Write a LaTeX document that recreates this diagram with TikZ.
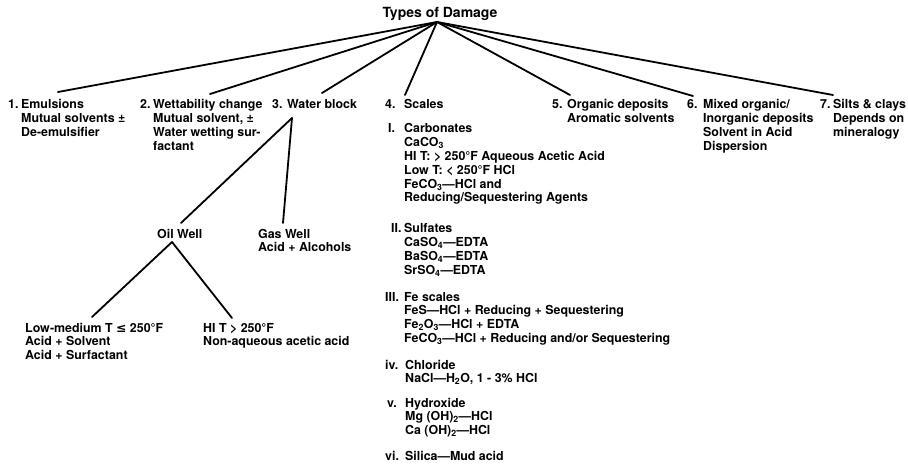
\documentclass[tikz,border=0pt]{standalone}
\usepackage{fontspec}
\setmainfont{TeX Gyre Heros}
\newfontfamily\symfnt{DejaVu Sans}
\newcommand\mlines[1]{\begin{tabular}[t]{@{}l@{}}#1\end{tabular}}
\begin{document}
\begin{tikzpicture}[x=1pt,y=-1pt,
  txt/.style={anchor=base west,inner sep=0pt,font=\bfseries\fontsize{12.4}{13.8}\selectfont},
  ttl/.style={anchor=base,inner sep=0pt,font=\bfseries\fontsize{14}{16}\selectfont},
  link/.style={line width=1.8pt,line cap=round}]
\useasboundingbox (0,0) rectangle (908,468);
% title
\node[ttl] (title) at (440,18) {Types of Damage};
\coordinate (fan) at (437,22);
% 1
\node[txt] (n1) at (8,109) {1.};
\node[txt] (t1) at (21,109) {\mlines{Emulsions\\Mutual solvents ±\\De-emulsifier}};
% 2
\node[txt] (n2) at (140,109) {2.};
\node[txt] (t2) at (153,109) {\mlines{Wettability change\\Mutual solvent, ±\\Water wetting sur-\\factant}};
% 3
\node[txt] (t3) at (272,109) {3. Water block};
% 4
\node[txt] (n4) at (385,109) {4.};
\node[txt] (t4) at (404,109) {Scales};
\node[txt] (r1) at (388,133) {I.};
\node[txt] (s1) at (404,133) {\mlines{Carbonates\\CaCO\textsubscript{3}\\HI T: > 250°F Aqueous Acetic Acid\\Low T: < 250°F HCl\\FeCO\textsubscript{3}—HCl and\\Reducing/Sequestering Agents}};
\node[txt] (r2) at (391,233) {II.};
\node[txt] (s2) at (404,233) {\mlines{Sulfates\\CaSO\textsubscript{4}—EDTA\\BaSO\textsubscript{4}—EDTA\\SrSO\textsubscript{4}—EDTA}};
\node[txt] (r3) at (385,301) {III.};
\node[txt] (s3) at (404,301) {\mlines{Fe scales\\FeS—HCl + Reducing + Sequestering\\Fe\textsubscript{2}O\textsubscript{3}—HCl + EDTA\\FeCO\textsubscript{3}—HCl + Reducing and/or Sequestering}};
\node[txt] (r4) at (385,369) {iv.};
\node[txt] (s4) at (405,369) {\mlines{Chloride\\NaCl—H\textsubscript{2}O, 1 - 3\% HCl}};
\node[txt] (r5) at (387,407) {v.};
\node[txt] (s5) at (405,407) {\mlines{Hydroxide\\Mg (OH)\textsubscript{2}—HCl\\Ca (OH)\textsubscript{2}—HCl}};
\node[txt] (r6) at (385,460) {vi.};
\node[txt] (s6) at (405,460) {Silica—Mud acid};
% 5
\node[txt] (n5) at (552,109) {5.};
\node[txt] (t5) at (567,109) {\mlines{Organic deposits\\Aromatic solvents}};
% 6
\node[txt] (n6) at (687,109) {6.};
\node[txt] (t6) at (703,109) {\mlines{Mixed organic/\\Inorganic deposits\\Solvent in Acid\\Dispersion}};
% 7
\node[txt] (n7) at (820,109) {7.};
\node[txt] (t7) at (833,109) {\mlines{Silts \& clays\\Depends on\\mineralogy}};
% water block subtree
\node[txt] (ow) at (157,238) {Oil Well};
\node[txt] (gw) at (258,238) {\mlines{Gas Well\\Acid + Alcohols}};
\node[txt] (lm) at (25,332) {\mlines{Low-medium T {\symfnt ≤} 250°F\\Acid + Solvent\\Acid + Surfactant}};
\node[txt] (ht) at (203,332) {\mlines{HI T > 250°F\\Non-aqueous acetic acid}};
% connector ends
\coordinate (e1) at (58,92);
\coordinate (e2) at (210,94);
\coordinate (e3) at (322,93);
\coordinate (e4) at (405,95);
\coordinate (e5) at (570,95);
\coordinate (e6) at (693,96);
\coordinate (e7) at (833,95);
\coordinate (wb) at (292,118);
\coordinate (owt) at (181,223);
\coordinate (gwt) at (283,223);
\coordinate (oa) at (172,242);
\coordinate (lmt) at (92,317);
\coordinate (htt) at (232,318);
\foreach \e in {e1,e2,e3,e4,e5,e6,e7} \draw[link] (fan) -- (\e);
\draw[link] (wb) -- (owt);
\draw[link] (wb) -- (gwt);
\draw[link] (oa) -- (lmt);
\draw[link] (oa) -- (htt);
\end{tikzpicture}
\end{document}
